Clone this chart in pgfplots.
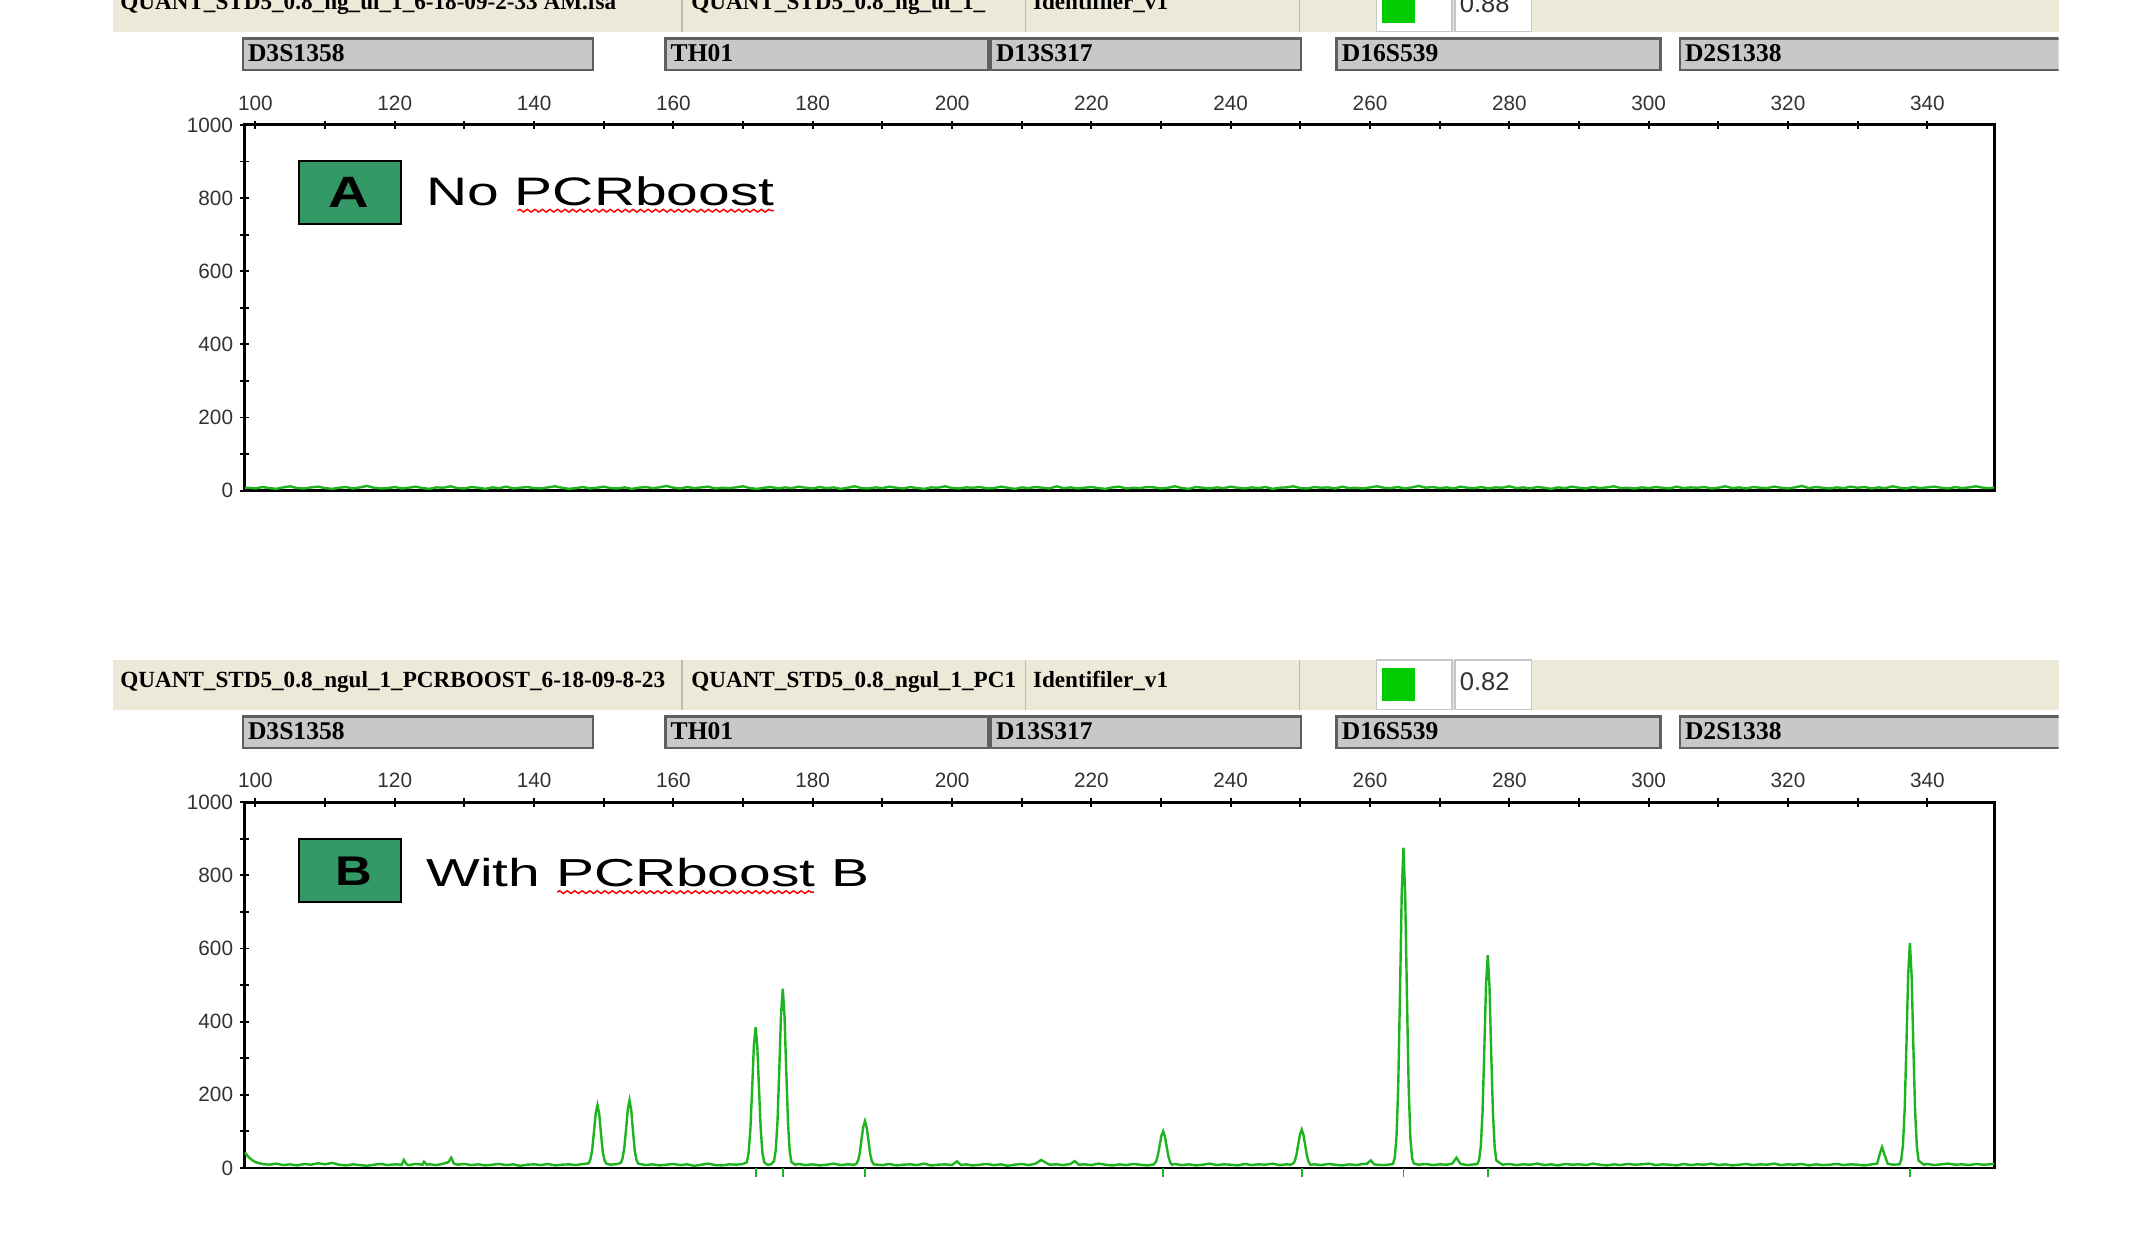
\documentclass[border=0pt]{standalone}
\usepackage{fontspec}
\setmainfont{Liberation Sans}
\newfontfamily\hdrfont{Liberation Serif}
\usepackage{graphicx}
\usepackage{pgfplots}
\pgfplotsset{compat=1.18}
\usetikzlibrary{decorations.pathmorphing}
\definecolor{beige}{RGB}{236,233,216}
\definecolor{sepgrey}{RGB}{190,187,172}
\definecolor{barfill}{RGB}{200,200,200}
\definecolor{barline}{RGB}{95,95,95}
\definecolor{boxgreen}{RGB}{51,153,102}
\definecolor{trace}{RGB}{30,180,30}
\definecolor{qgreen}{RGB}{0,204,0}
\definecolor{ticktext}{RGB}{50,50,50}

\newcommand{\locus}[4]{%
  \filldraw[fill=barfill, draw=barline, line width=0.55pt] (#1,{#4+522}) rectangle (#2,{#4+545});
  \node[anchor=base west, inner sep=0, font=\hdrfont\bfseries\fontsize{5.3}{6}\selectfont] at ({#1+3},{#4+539}) {#3};}

\newcommand{\header}[4]{%
  \fill[beige] (82,{#1+481}) rectangle (1500,{#1+517});
  \foreach \sx in {497,747,947} {\draw[sepgrey, line width=0.3pt] (\sx,{#1+481}) -- (\sx,{#1+517});}
  \filldraw[fill=white, draw=gray!45, line width=0.3pt] (1003,{#1+481}) rectangle (1058,{#1+517});
  \filldraw[fill=white, draw=gray!45, line width=0.3pt] (1060,{#1+481}) rectangle (1116,{#1+517});
  \fill[qgreen] (1007,{#1+487}) rectangle (1031,{#1+511});
  \begin{scope}
    \clip (82,{#1+470}) rectangle (496,{#1+520});
    \node[anchor=base west, inner sep=0, font=\hdrfont\bfseries\fontsize{4.8}{5}\selectfont] at (87,{#1+501}) {#2};
  \end{scope}
  \begin{scope}
    \clip (498,{#1+470}) rectangle (746,{#1+520});
    \node[anchor=base west, inner sep=0, font=\hdrfont\bfseries\fontsize{4.8}{5}\selectfont] at (503,{#1+501}) {#3};
  \end{scope}
  \node[anchor=base west, inner sep=0, font=\hdrfont\bfseries\fontsize{4.8}{5}\selectfont] at (752,{#1+501}) {Identifiler\_v1};
  \node[anchor=base west, inner sep=0, font=\fontsize{5.3}{6}\selectfont, text=ticktext] at (1063,{#1+503}) {#4};
  \begin{scope}
    \clip (0,{#1+515}) rectangle (1500,{#1+555});
    \locus{177}{432}{D3S1358}{#1}
    \locus{485}{720}{TH01}{#1}
    \locus{722}{948}{D13S317}{#1}
    \locus{974}{1210}{D16S539}{#1}
    \locus{1224}{1510}{D2S1338}{#1}
  \end{scope}}

\pgfplotsset{epgaxis/.style={
  scale only axis, width=12.75cm, height=2.665cm, anchor=south west,
  xmin=98.4, xmax=349.6, ymin=0, ymax=1000,
  xtick={100,120,...,340}, minor xtick={110,130,...,350},
  ytick={0,200,...,1000}, minor ytick={100,300,...,900},
  xtick pos=right, xticklabel pos=right,
  ytick pos=left, yticklabel pos=left,
  tick align=center,
  major tick length=1.8pt, minor tick length=1.8pt,
  every tick/.style={black, line width=0.4pt},
  axis line style={black, line width=0.6pt},
  /pgf/number format/assume math mode=true,
  /pgf/number format/1000 sep={},
  tick label style={font=\fontsize{4.3}{5}\selectfont, text=ticktext},
  xticklabel style={yshift=-1.4pt},
  yticklabel style={xshift=2.1pt},
}}

\begin{document}
\begin{tikzpicture}
\useasboundingbox (0,0) rectangle (15.68cm,-9.08cm);
\clip (0,0) rectangle (15.68cm,-9.08cm);

\begin{scope}[x=0.1mm, y=-0.1mm]
  \header{-494}{QUANT\_STD5\_0.8\_ng\_ul\_1\_6-18-09-2-33 AM.fsa}{QUANT\_STD5\_0.8\_ng\_ul\_1\_}{0.88}
  \header{0}{QUANT\_STD5\_0.8\_ngul\_1\_PCRBOOST\_6-18-09-8-23}{QUANT\_STD5\_0.8\_ngul\_1\_PC1}{0.82}
\end{scope}

% Panel A
\begin{axis}[epgaxis, at={(1.78cm,-3.575cm)}]
\addplot[trace, line width=0.5pt] coordinates {
(98.5,7) (99,8) (100,6) (101,10) (102,7) (103,5) (104,9) (105,12) (106,7) (107,6) (108,9)
(109,11) (110,7) (111,5) (112,8) (113,10) (114,6) (115,9) (116,13) (117,8) (118,6)
(119,7) (120,10) (121,6) (122,8) (123,11) (124,7) (125,5) (126,9) (127,8) (128,12)
(129,7) (130,6) (131,10) (132,8) (133,5) (134,9) (135,7) (136,11) (137,6) (138,8)
(139,10) (140,7) (141,6) (142,9) (143,12) (144,8) (145,5) (146,7) (147,10) (148,6)
(149,8) (150,11) (151,7) (152,6) (153,9) (154,5) (155,8) (156,10) (157,7) (158,9)
(159,13) (160,8) (161,6) (162,10) (163,7) (164,9) (165,11) (166,6) (167,8) (168,7)
(169,9) (170,12) (171,7) (172,5) (173,8) (174,10) (175,6) (176,9) (177,7) (178,11)
(179,8) (180,6) (181,10) (182,7) (183,9) (184,5) (185,8) (186,12) (187,7) (188,6)
(189,9) (190,7) (191,11) (192,8) (193,6) (194,10) (195,7) (196,5) (197,9) (198,8)
(199,12) (200,7) (201,6) (202,9) (203,8) (204,10) (205,6) (206,7) (207,11) (208,8)
(209,5) (210,9) (211,7) (212,10) (213,8) (214,6) (215,12) (216,7) (217,9) (218,6)
(219,8) (220,10) (221,7) (222,5) (223,9) (224,11) (225,6) (226,8) (227,7) (228,10)
(229,9) (230,6) (231,8) (232,12) (233,7) (234,5) (235,10) (236,8) (237,6) (238,9)
(239,7) (240,11) (241,8) (242,6) (243,9) (244,7) (245,10) (246,5) (247,8) (248,9)
(249,12) (250,7) (251,6) (252,10) (253,8) (254,9) (255,6) (256,11) (257,7) (258,8)
(259,6) (260,9) (261,12) (262,8) (263,7) (264,10) (265,6) (266,9) (267,13) (268,8)
(269,10) (270,7) (271,9) (272,6) (273,11) (274,8) (275,7) (276,10) (277,6) (278,9)
(279,8) (280,12) (281,7) (282,9) (283,6) (284,10) (285,8) (286,5) (287,9) (288,7)
(289,11) (290,8) (291,6) (292,10) (293,7) (294,9) (295,12) (296,7) (297,8) (298,6)
(299,9) (300,7) (301,10) (302,8) (303,6) (304,11) (305,7) (306,9) (307,8) (308,10)
(309,6) (310,8) (311,12) (312,7) (313,9) (314,6) (315,10) (316,8) (317,7) (318,11)
(319,8) (320,6) (321,9) (322,13) (323,7) (324,10) (325,8) (326,6) (327,9) (328,7)
(329,11) (330,8) (331,10) (332,6) (333,9) (334,7) (335,12) (336,8) (337,6) (338,10)
(339,7) (340,9) (341,11) (342,8) (343,6) (344,10) (345,7) (346,9) (347,12) (348,8)
(349,7) (349.6,9)
};
\end{axis}

% Panel B
\begin{axis}[epgaxis, at={(1.78cm,-8.51cm)}, clip=false]
\addplot[trace, line width=0.5pt] coordinates {
(98.5,42) (99,30) (99.5,22) (100,16) (101,11) (102,9) (103,12) (104,8) (105,10) (106,7)
(107,11) (108,9) (109,13) (110,10) (111,14) (112,9) (113,7) (114,10) (115,8) (116,6)
(117,9) (118,11) (119,8) (120,10) (121,9) (121.3,22) (121.7,10) (122,8) (123,11) (124,9)
(124.2,17) (124.6,9) (125,10) (126,8) (127,12) (127.7,16) (128.1,28) (128.5,12) (129,9) (130,11)
(131,8) (132,10) (133,7) (134,9) (135,11) (136,8) (137,10) (138,6) (139,9) (140,10)
(141,8) (142,11) (143,7) (144,9) (145,10) (146,8) (147,11) (147.6,12)
(147.85,13) (148.1,25) (148.35,50) (148.6,100) (148.85,150) (149.1,172) (149.35,148) (149.6,95) (149.85,45) (150.1,22) (150.35,12)
(151,9) (152,11)
(152.45,14) (152.7,26) (152.95,55) (153.2,105) (153.45,160) (153.7,185) (153.95,158) (154.2,100) (154.45,48) (154.7,22) (154.95,12)
(156,8) (157,10) (158,7) (159,9) (160,11) (161,8) (162,10) (163,6) (164,9) (165,12) (166,8) (167,7) (168,10) (169,9) (170,11)
(170.55,16) (170.8,42) (171.05,105) (171.3,215) (171.55,335) (171.8,385) (172.05,330) (172.3,210) (172.55,100) (172.8,38) (173.05,15)
(173.5,9) (174,10)
(174.45,19) (174.7,50) (174.95,130) (175.2,270) (175.45,420) (175.7,490) (175.95,415) (176.2,265) (176.45,125) (176.7,45) (176.95,16)
(177.5,9) (178,11) (179,8) (180,10) (181,7) (182,9) (183,12) (184,8) (185,10) (186,9)
(186.25,11) (186.5,20) (186.75,40) (187,78) (187.25,112) (187.5,128) (187.75,110) (188,75) (188.25,38) (188.5,18) (188.75,10)
(190,8) (191,11) (192,7) (193,9) (194,10) (195,8) (196,12) (197,7) (198,9) (199,10) (200,8) (200.7,18) (201.3,8)
(202,10) (203,7) (204,9) (205,11) (206,8) (207,10) (208,6) (209,9) (210,11) (211,8) (212,12) (212.8,22) (213.5,14)
(214,9) (215,10) (216,8) (217,11) (217.6,19) (218.2,9) (219,10) (220,8) (221,12) (222,9) (223,7) (224,10) (225,8)
(226,11) (227,9) (228,7) (229,10)
(229.05,12) (229.3,18) (229.55,35) (229.8,62) (230.05,88) (230.3,100) (230.55,86) (230.8,60) (231.05,32) (231.3,16) (231.55,9)
(232,11) (233,8) (234,10) (235,7) (236,9) (237,12) (238,8) (239,10) (240,9) (241,7) (242,11) (243,8) (244,10) (245,9)
(246,12) (247,8) (248,10) (248.6,9)
(248.95,12) (249.2,19) (249.45,37) (249.7,65) (249.95,92) (250.2,105) (250.45,90) (250.7,62) (250.95,33) (251.2,16) (251.45,9)
(252,10) (253,8) (254,11) (255,9) (256,7) (257,10) (258,8) (259,11) (259.6,12) (260.1,21) (260.6,10) (261,9) (262,8) (263,10)
(263.3,11) (263.55,28) (263.8,84) (264.05,225) (264.3,475) (264.55,750) (264.8,876) (265.05,745) (265.3,470) (265.55,220) (265.8,80) (266.05,26) (266.3,12)
(267,9) (268,11) (269,8) (270,10) (271,9) (271.8,12) (272.4,28) (273,11) (274,8) (275,10)
(275.4,11) (275.65,21) (275.9,58) (276.15,152) (276.4,318) (276.65,500) (276.9,582) (277.15,497) (277.4,312) (277.65,148) (277.9,55) (278.15,20)
(279,9) (280,11) (281,8) (282,10) (283,9) (284,12) (285,8) (286,10) (287,7) (288,11) (289,9) (290,10) (291,8) (292,12)
(293,9) (294,7) (295,10) (296,8) (297,11) (298,9) (299,10) (300,12) (301,8) (302,10) (303,9) (304,7) (305,11) (306,8)
(307,10) (308,9) (309,12) (310,8) (311,10) (312,7) (313,9) (314,11) (315,8) (316,10) (317,9) (318,12) (319,8) (320,10)
(321,9) (322,11) (323,7) (324,10) (325,8) (326,9) (327,11) (328,8) (329,10) (330,9) (331,7) (332,10)
(332.8,12) (333.2,40) (333.5,57) (333.8,40) (334.3,12) (335,9) (336,10)
(336.25,22) (336.5,62) (336.75,160) (337,335) (337.25,528) (337.5,615) (337.75,525) (338,330) (338.25,155) (338.5,58) (338.75,20)
(339.5,9) (340,11) (341,8) (342,10) (343,12) (344,9) (345,10) (346,8) (347,11) (348,9) (349,10) (349.6,12)
};
\addplot[ycomb, trace, line width=0.4pt] coordinates {
(171.8,-24) (175.7,-24) (187.5,-24) (230.3,-24) (250.2,-24) (264.8,-24) (276.9,-24) (337.5,-24)
};
\end{axis}

% panel labels
\begin{scope}[x=0.1mm, y=-0.1mm]
  \filldraw[fill=boxgreen, draw=black, line width=0.45pt] (218,117) rectangle (292,163);
  \node[inner sep=0] at (254,140) {\resizebox{0.296cm}{0.22cm}{\bfseries A}};
  \node[anchor=base west, inner sep=0] at (310,150) {\resizebox{2.536cm}{0.21cm}{No PCRboost}};
  \draw[red, line width=0.3pt, decorate, decoration={snake, segment length=0.55mm, amplitude=0.1mm}] (377,153.5) -- (564,153.5);

  \filldraw[fill=boxgreen, draw=black, line width=0.45pt] (218,611) rectangle (292,657);
  \node[inner sep=0] at (258,635) {\resizebox{0.267cm}{0.208cm}{\bfseries B}};
  \node[anchor=base west, inner sep=0] at (310,646) {\resizebox{3.227cm}{0.206cm}{With PCRboost B}};
  \draw[red, line width=0.3pt, decorate, decoration={snake, segment length=0.55mm, amplitude=0.1mm}] (406,650) -- (593,650);
\end{scope}
\end{tikzpicture}
\end{document}
